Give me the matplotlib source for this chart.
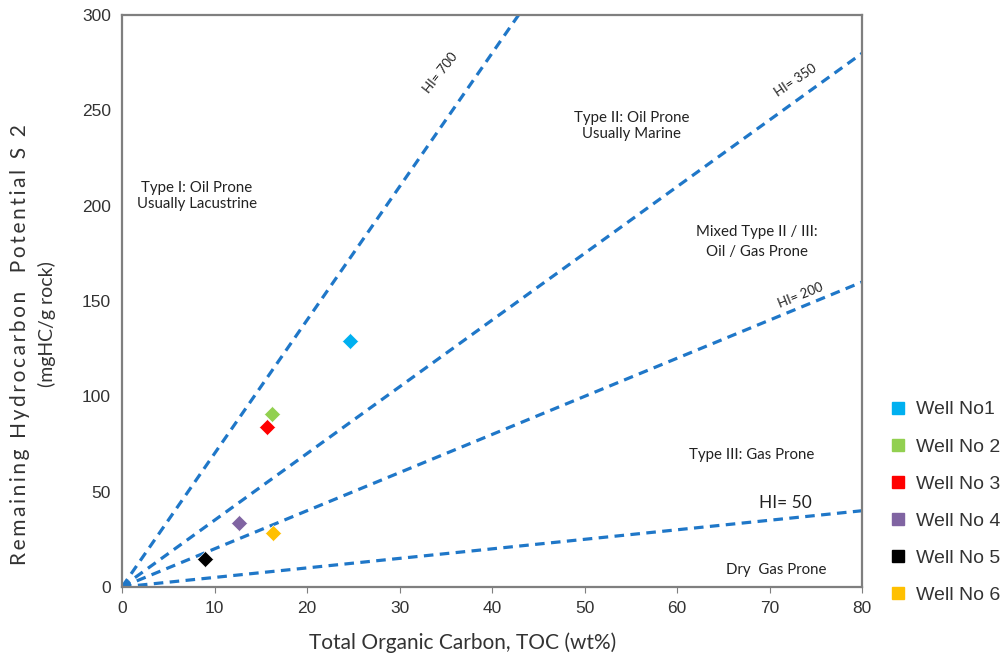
import numpy as np
import matplotlib
matplotlib.use('Agg')
import matplotlib.pyplot as plt
from matplotlib.lines import Line2D

# well data
wells = ['Well No1', 'Well No 2', 'Well No 3', 'Well No 4', 'Well No 5', 'Well No 6']
toc = [24.7, 16.2, 15.7, 12.6, 9.0, 16.3]
s2 = [129.0, 91.0, 84.0, 33.7, 14.8, 28.2]
colors = ['#00B0F0', '#92D050', '#FF0000', '#8064A2', '#000000', '#FFC000']

# hydrogen index lines (S2 = HI/100 * TOC)
hi_values = [700, 350, 200, 50]

fig = plt.figure(figsize=(10, 6.61), dpi=100)
ax = fig.add_axes([0.122, 0.112, 0.740, 0.865])

line_color = '#1F77C8'
for hi in hi_values:
    x = np.array([0, 80])
    ax.plot(x, x * hi / 100.0, linestyle=(0, (3, 2)), color=line_color, lw=2.3, zorder=2)

for t, s, c in zip(toc, s2, colors):
    ax.plot(t, s, marker='D', ms=8, color=c, mec='white', mew=0.4, ls='none', zorder=3)

ax.set_xlim(0, 80)
ax.set_ylim(0, 300)
ax.set_xticks(np.arange(0, 81, 10))
ax.set_yticks(np.arange(0, 301, 50))

for sp in ax.spines.values():
    sp.set_color('#7F7F7F')
    sp.set_linewidth(1.6)
ax.tick_params(axis='x', direction='out', length=4, color='#7F7F7F', labelsize=12.5, pad=6)
ax.tick_params(axis='y', length=0, labelsize=12.5, pad=8)
for lab in ax.get_xticklabels() + ax.get_yticklabels():
    lab.set_family('Liberation Sans')
    lab.set_color('#333333')

fig.text(0.463, 0.027, 'Total Organic Carbon, TOC (wt%)', ha='center', va='center',
         fontsize=15, family='Lato', color='#333333')

# y label, slightly letter-spaced like the original
ylab = '\u2009'.join('Remaining Hydrocarbon  Potential S 2')
fig.text(0.020, 0.478, ylab, rotation=90, ha='center', va='center',
         fontsize=15, family=['Lato', 'DejaVu Sans'], color='#333333')
fig.text(0.047, 0.51, '(mgHC/g rock)', rotation=90, ha='center', va='center',
         fontsize=14, family='Lato', color='#333333')

tfont = dict(family='Lato', fontsize=10.8, color='#222222', ha='center', va='center')
ax.text(8.1, 205, 'Type I: Oil Prone\nUsually Lacustrine', **tfont)
ax.text(55.1, 242, 'Type II: Oil Prone\nUsually Marine', **tfont)
ax.text(68.6, 181, 'Mixed Type II / III:\nOil / Gas Prone', linespacing=1.6, **tfont)
ax.text(68.1, 69, 'Type III: Gas Prone', **tfont)
ax.text(70.7, 9, 'Dry  Gas Prone', **tfont)

# HI labels along the lines
hfont = dict(family='Lato', fontsize=9.5, color='#222222', ha='center', va='center')
ax.text(34.4, 270, 'HI= 700', rotation=52, **hfont)
ax.text(72.8, 266, 'HI= 350', rotation=34, **hfont)
ax.text(73.3, 153, 'HI= 200', rotation=22, **hfont)
ax.text(71.7, 44, 'HI= 50', family='Lato', fontsize=12.5, color='#222222', ha='center', va='center')

handles = [Line2D([], [], marker='s', ls='none', color=c, ms=9) for c in colors]
leg = fig.legend(handles, wells, loc='upper left', bbox_to_anchor=(0.873, 0.42),
                 frameon=False, handlelength=0.8, handletextpad=0.5, labelspacing=1.0,
                 prop={'family': 'Liberation Sans', 'size': 14})
for t in leg.get_texts():
    t.set_color('#333333')

fig.savefig('out.png', dpi=100)
